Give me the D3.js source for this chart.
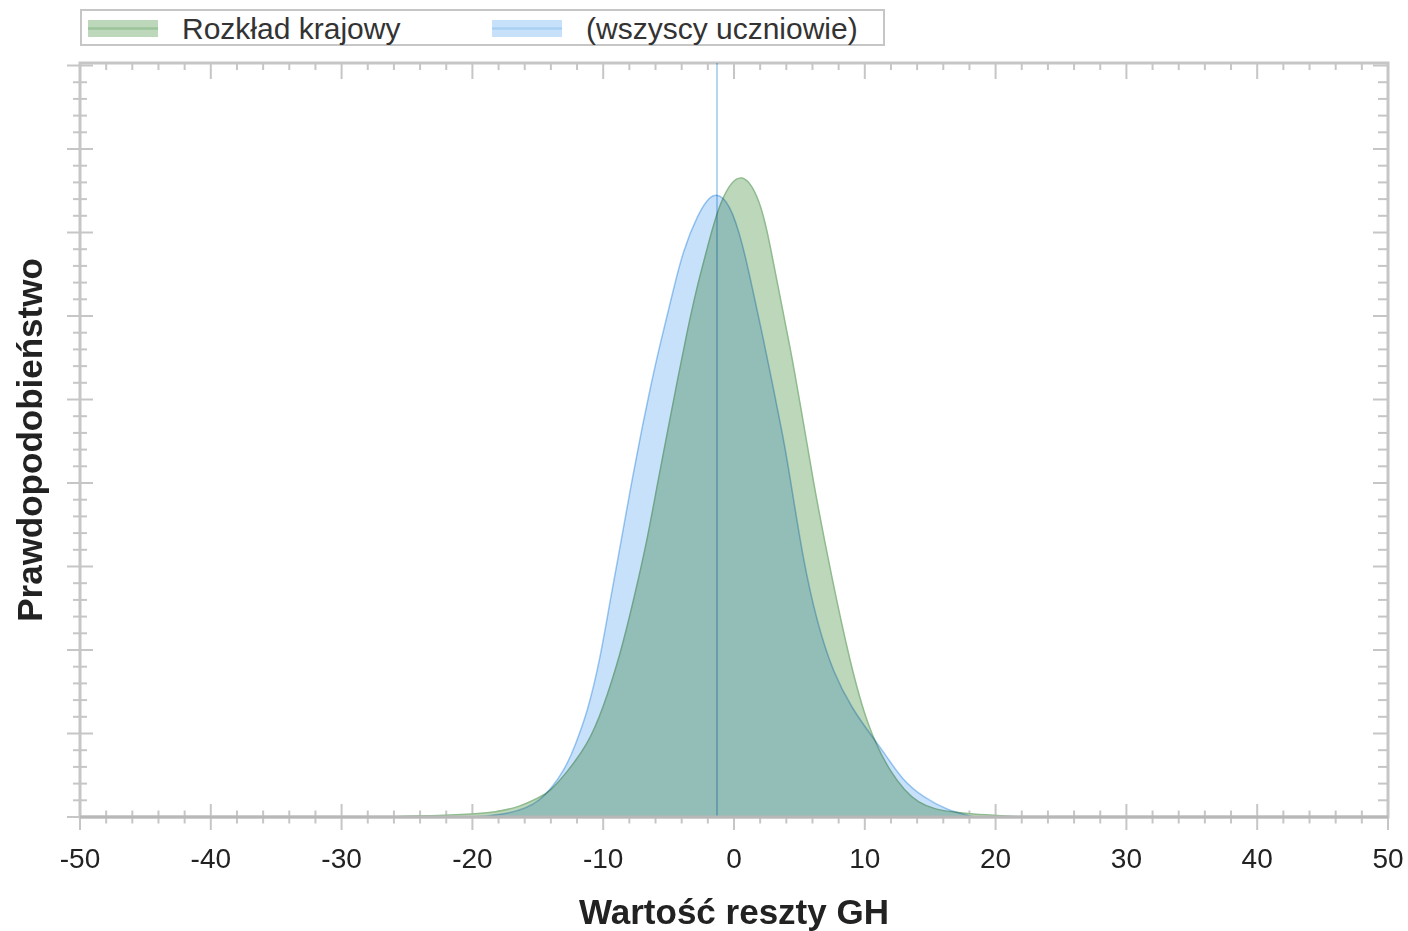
<!DOCTYPE html>
<html>
<head>
<meta charset="utf-8">
<script src="https://cdn.jsdelivr.net/npm/d3@7"></script>
<style>
  body { margin: 0; background: #fff; }
  svg text { font-family: "Liberation Sans", Arial, sans-serif; }
</style>
</head>
<body>
<div id="chart"></div>
<script>
'use strict';

// national distribution (green)
var krajX = [-26.8, -20.7, -18.1, -16.4, -14.8, -14.1, -12.8, -11.2, -10.0, -8.7, -7.7, -6.65, -5.9, -5.1, -4.36, -3.6, -2.83, -2.06, -1.07, 0.54, 2.0, 2.75, 3.5, 4.3, 5.05, 6.04, 7.5, 8.87, 10.2, 11.9, 14.0, 16.7, 21.9];
var krajY = [0, 0.024, 0.06, 0.12, 0.24, 0.3, 0.53, 0.86, 1.3, 1.94, 2.58, 3.3, 3.95, 4.6, 5.2, 5.8, 6.35, 6.8, 7.4, 7.78, 7.4, 6.86, 6.24, 5.62, 4.96, 4.02, 2.84, 1.85, 1.08, 0.53, 0.13, 0.05, 0];

// all students (blue)
var uczX = [-20, -17.4, -14.8, -12.8, -12.2, -11.2, -10.2, -9.5, -8.7, -7.8, -6.96, -6.42, -5.9, -5.12, -4.66, -3.9, -2.83, -1.6, -0.3, 0.69, 1.45, 2.2, 2.98, 3.75, 4.28, 5.28, 6.35, 7.57, 9.1, 10.4, 11.7, 12.9, 14.45, 16.3, 18.4];
var uczY = [0, 0.03, 0.15, 0.6, 0.84, 1.25, 1.92, 2.57, 3.24, 4.04, 4.72, 5.12, 5.5, 6.0, 6.3, 6.78, 7.2, 7.52, 7.36, 6.85, 6.3, 5.76, 5.16, 4.56, 4.08, 3.08, 2.33, 1.73, 1.28, 1.0, 0.72, 0.44, 0.24, 0.08, 0];

var meanLine = -1.3;
var xTicks = [-50, -40, -30, -20, -10, 0, 10, 20, 30, 40, 50];
var legendLabels = ['Rozkład krajowy', '(wszyscy uczniowie)'];

var width = 1408, height = 931,
    margin = {top: 63, right: 20, bottom: 114, left: 80},
    axisColor = '#c6c6c6';

var svg = d3.select('#chart').append('svg')
    .attr('width', width)
    .attr('height', height);

var x = d3.scaleLinear().domain([-50, 50]).range([margin.left, width - margin.right]);
var y = d3.scaleLinear().domain([0, 9.03]).range([height - margin.bottom, margin.top]);

var x0 = x.range()[0], x1 = x.range()[1], y0 = y.range()[0], y1 = y.range()[1];

//Frame
svg.append('rect')
    .attr('x', x0).attr('y', y1)
    .attr('width', x1 - x0).attr('height', y0 - y1)
    .attr('fill', 'none')
    .attr('stroke', axisColor)
    .attr('stroke-width', 3);

var xMinor = d3.range(-50, 50.01, 2),
    yMinor = d3.range(0, 9.01, 0.2);

function isMajor(v, step) {
    return Math.abs(v / step - Math.round(v / step)) < 1e-6;
}

var ticks = svg.append('g').attr('stroke', axisColor).attr('stroke-width', 2);

// bottom ticks cross the axis, top ticks point inward
xMinor.forEach(function(v) {
    var len = isMajor(v, 10) ? 13 : 6.5;
    ticks.append('line').attr('x1', x(v)).attr('x2', x(v)).attr('y1', y0 - len).attr('y2', y0 + len);
    var inLen = isMajor(v, 10) ? 16 : 7;
    ticks.append('line').attr('x1', x(v)).attr('x2', x(v)).attr('y1', y1).attr('y2', y1 + inLen);
});

// left / right ticks
yMinor.forEach(function(v) {
    var len = isMajor(v, 1) ? 13 : 7;
    ticks.append('line').attr('y1', y(v)).attr('y2', y(v)).attr('x1', x0 - len).attr('x2', x0 + len);
    var inLen = isMajor(v, 1) ? 15 : 10;
    ticks.append('line').attr('y1', y(v)).attr('y2', y(v)).attr('x1', x1 - inLen).attr('x2', x1);
});

//Distributions
function pts(xs, ys) {
    return xs.map(function(d, i) { return [d, ys[i]]; });
}

var area = d3.area()
    .x(function(d) { return x(d[0]); })
    .y0(y(0))
    .y1(function(d) { return y(d[1]); })
    .curve(d3.curveBasis);

var line = d3.line()
    .x(function(d) { return x(d[0]); })
    .y(function(d) { return y(d[1]); })
    .curve(d3.curveBasis);

var plot = svg.append('g');

plot.append('path')
    .datum(pts(krajX, krajY))
    .attr('d', area)
    .attr('fill', '#bdd7ba');
plot.append('path')
    .datum(pts(krajX, krajY))
    .attr('d', line)
    .attr('fill', 'none')
    .attr('stroke', '#8fbb8e')
    .attr('stroke-width', 1.5);

plot.append('path')
    .datum(pts(uczX, uczY))
    .attr('d', area)
    .attr('fill', '#c7e1fb')
    .style('mix-blend-mode', 'multiply');
plot.append('path')
    .datum(pts(uczX, uczY))
    .attr('d', line)
    .attr('fill', 'none')
    .attr('stroke', '#a3cdf0')
    .attr('stroke-width', 1.5)
    .style('mix-blend-mode', 'multiply');

plot.append('line')
    .attr('x1', x(meanLine)).attr('x2', x(meanLine))
    .attr('y1', y1).attr('y2', y0)
    .attr('stroke', '#b4d6ee')
    .attr('stroke-width', 2)
    .style('mix-blend-mode', 'multiply');

// bottom axis line on top of fills
svg.append('line')
    .attr('x1', x0).attr('x2', x1).attr('y1', y0).attr('y2', y0)
    .attr('stroke', '#b8b8b8').attr('stroke-width', 3);

//Tick labels
svg.append('g').selectAll('text')
    .data(xTicks)
    .enter().append('text')
    .attr('x', function(d) { return x(d); })
    .attr('y', 868)
    .attr('text-anchor', 'middle')
    .attr('font-size', 28)
    .attr('fill', '#222')
    .text(function(d) { return d; });

svg.append('text')
    .attr('x', x(0))
    .attr('y', 924)
    .attr('text-anchor', 'middle')
    .attr('font-size', 35)
    .attr('font-weight', 'bold')
    .attr('fill', '#222')
    .text('Wartość reszty GH');

svg.append('text')
    .attr('transform', 'translate(42,' + 440 + ') rotate(-90)')
    .attr('text-anchor', 'middle')
    .attr('font-size', 35)
    .attr('font-weight', 'bold')
    .attr('fill', '#222')
    .text('Prawdopodobieństwo');

//Legend
var legend = svg.append('g');
legend.append('rect')
    .attr('x', 81).attr('y', 10)
    .attr('width', 803).attr('height', 35)
    .attr('fill', '#fff')
    .attr('stroke', axisColor)
    .attr('stroke-width', 2);

var legendColors = [['#bdd7ba', '#9cc49a'], ['#c7e1fb', '#a9d0f3']],
    legendX = [88, 492];

legendLabels.forEach(function(lbl, i) {
    legend.append('rect')
        .attr('x', legendX[i]).attr('y', 20)
        .attr('width', 70).attr('height', 17)
        .attr('fill', legendColors[i][0]);
    legend.append('line')
        .attr('x1', legendX[i]).attr('x2', legendX[i] + 70)
        .attr('y1', 28.5).attr('y2', 28.5)
        .attr('stroke', legendColors[i][1])
        .attr('stroke-width', 2.5);
    legend.append('text')
        .attr('x', legendX[i] + 94)
        .attr('y', 39)
        .attr('font-size', 30)
        .attr('fill', '#333')
        .text(lbl);
});
</script>
</body>
</html>
